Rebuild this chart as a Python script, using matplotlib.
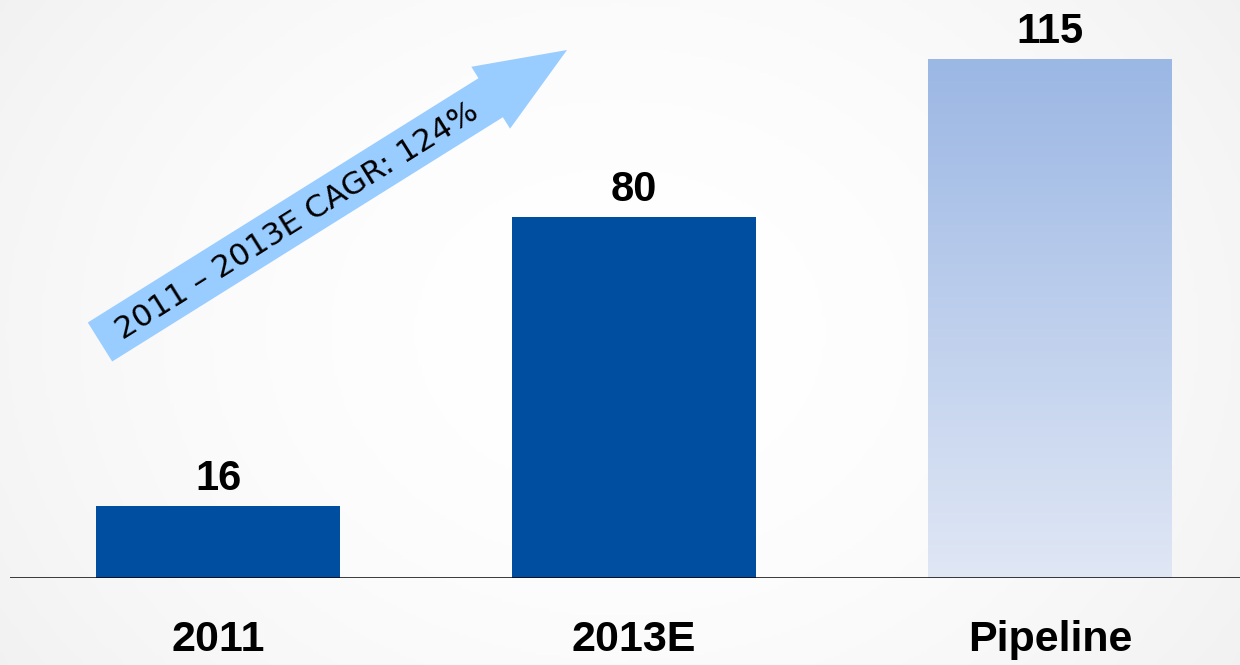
import numpy as np
import matplotlib
matplotlib.use("Agg")
import matplotlib.pyplot as plt
from matplotlib.patches import FancyArrow
from matplotlib import font_manager

categories = ["2011", "2013E", "Pipeline"]
values = [16, 80, 115]
value_labels = ["16", "80", "115"]
cagr_label = "2011 \u2013 2013E CAGR: 124%"

W, H = 1240, 665
fig = plt.figure(figsize=(W / 100, H / 100), dpi=100)

# soft background (white centre, light grey edges)
bg = fig.add_axes([0, 0, 1, 1], zorder=0)
yy, xx = np.mgrid[-1:1:200j, -1:1:400j]
r2 = (xx ** 2) * 0.9 + (yy ** 2) * 0.4
shade = 1.0 - 0.04 * np.clip(r2, 0, 1.5)
bg.imshow(np.dstack([shade] * 3), aspect="auto", extent=[0, 1, 0, 1])
bg.axis("off")

narrow = [f.name for f in font_manager.fontManager.ttflist if f.name == "Liberation Sans Narrow"]
cat_family = ["Liberation Sans Narrow"] if narrow else ["Liberation Sans"]

# bar axes: baseline at y=578px, 4.51 px per unit
left_px, right_px = 10, 1240
base_px = 578
ymax = 125
top_px = base_px - ymax * 4.51
ax = fig.add_axes([left_px / W, (H - base_px) / H, (right_px - left_px) / W,
                   (base_px - top_px) / H], zorder=1)
ax.patch.set_alpha(0)
x = np.arange(len(categories))
ax.set_xlim(-0.5, (right_px - 218) / 416)
ax.set_ylim(0, ymax)
cols = ["#004EA0", "#004EA0", "none"]
bars = ax.bar(x, values, width=0.5865, color=cols, zorder=2)

# gradient fill for pipeline bar
pb = bars[2]
x0, w = pb.get_x(), pb.get_width()
grad = np.linspace(0, 1, 256)[:, None]
top_c = np.array([155, 183, 228]) / 255
bot_c = np.array([224, 231, 245]) / 255
img = top_c * (1 - grad[..., None]) + bot_c * grad[..., None]
img = np.repeat(img, 2, axis=1)
im = ax.imshow(img, extent=[x0, x0 + w, 0, values[2]], aspect="auto", zorder=2)
im.set_clip_path(pb)

for xi, v, lab in zip(x, values, value_labels):
    ax.annotate(lab, (xi, v), xytext=(0, 5), textcoords="offset points",
                ha="center", va="bottom", fontsize=30, fontweight="bold",
                family=["Liberation Sans", "DejaVu Sans"], color="black")

ax.axhline(0, color="black", lw=1.8, zorder=3)
ax.set_xticks(x)
ax.set_xticklabels(categories, fontsize=31, fontweight="bold",
                   family=cat_family + ["DejaVu Sans"])
ax.tick_params(axis="x", length=0, pad=30)
ax.set_yticks([])
for s in ax.spines.values():
    s.set_visible(False)

# CAGR arrow in pixel coordinates
ov = fig.add_axes([0, 0, 1, 1], zorder=4)
ov.set_xlim(0, W)
ov.set_ylim(H, 0)
ov.axis("off")
ov.patch.set_alpha(0)
sx, sy, tx, ty = 100, 342, 567, 50
ov.add_patch(FancyArrow(sx, sy, tx - sx, ty - sy, width=46, head_width=73,
                        head_length=90, length_includes_head=True,
                        color="#99CCFF", lw=0))
ang = np.degrees(np.arctan2(sy - ty, tx - sx))
ov.text(297, 221, cagr_label, rotation=ang, rotation_mode="anchor",
        ha="center", va="center", fontsize=22.5, color="black",
        family=["DejaVu Sans"])

fig.savefig("out.png", dpi=100)
